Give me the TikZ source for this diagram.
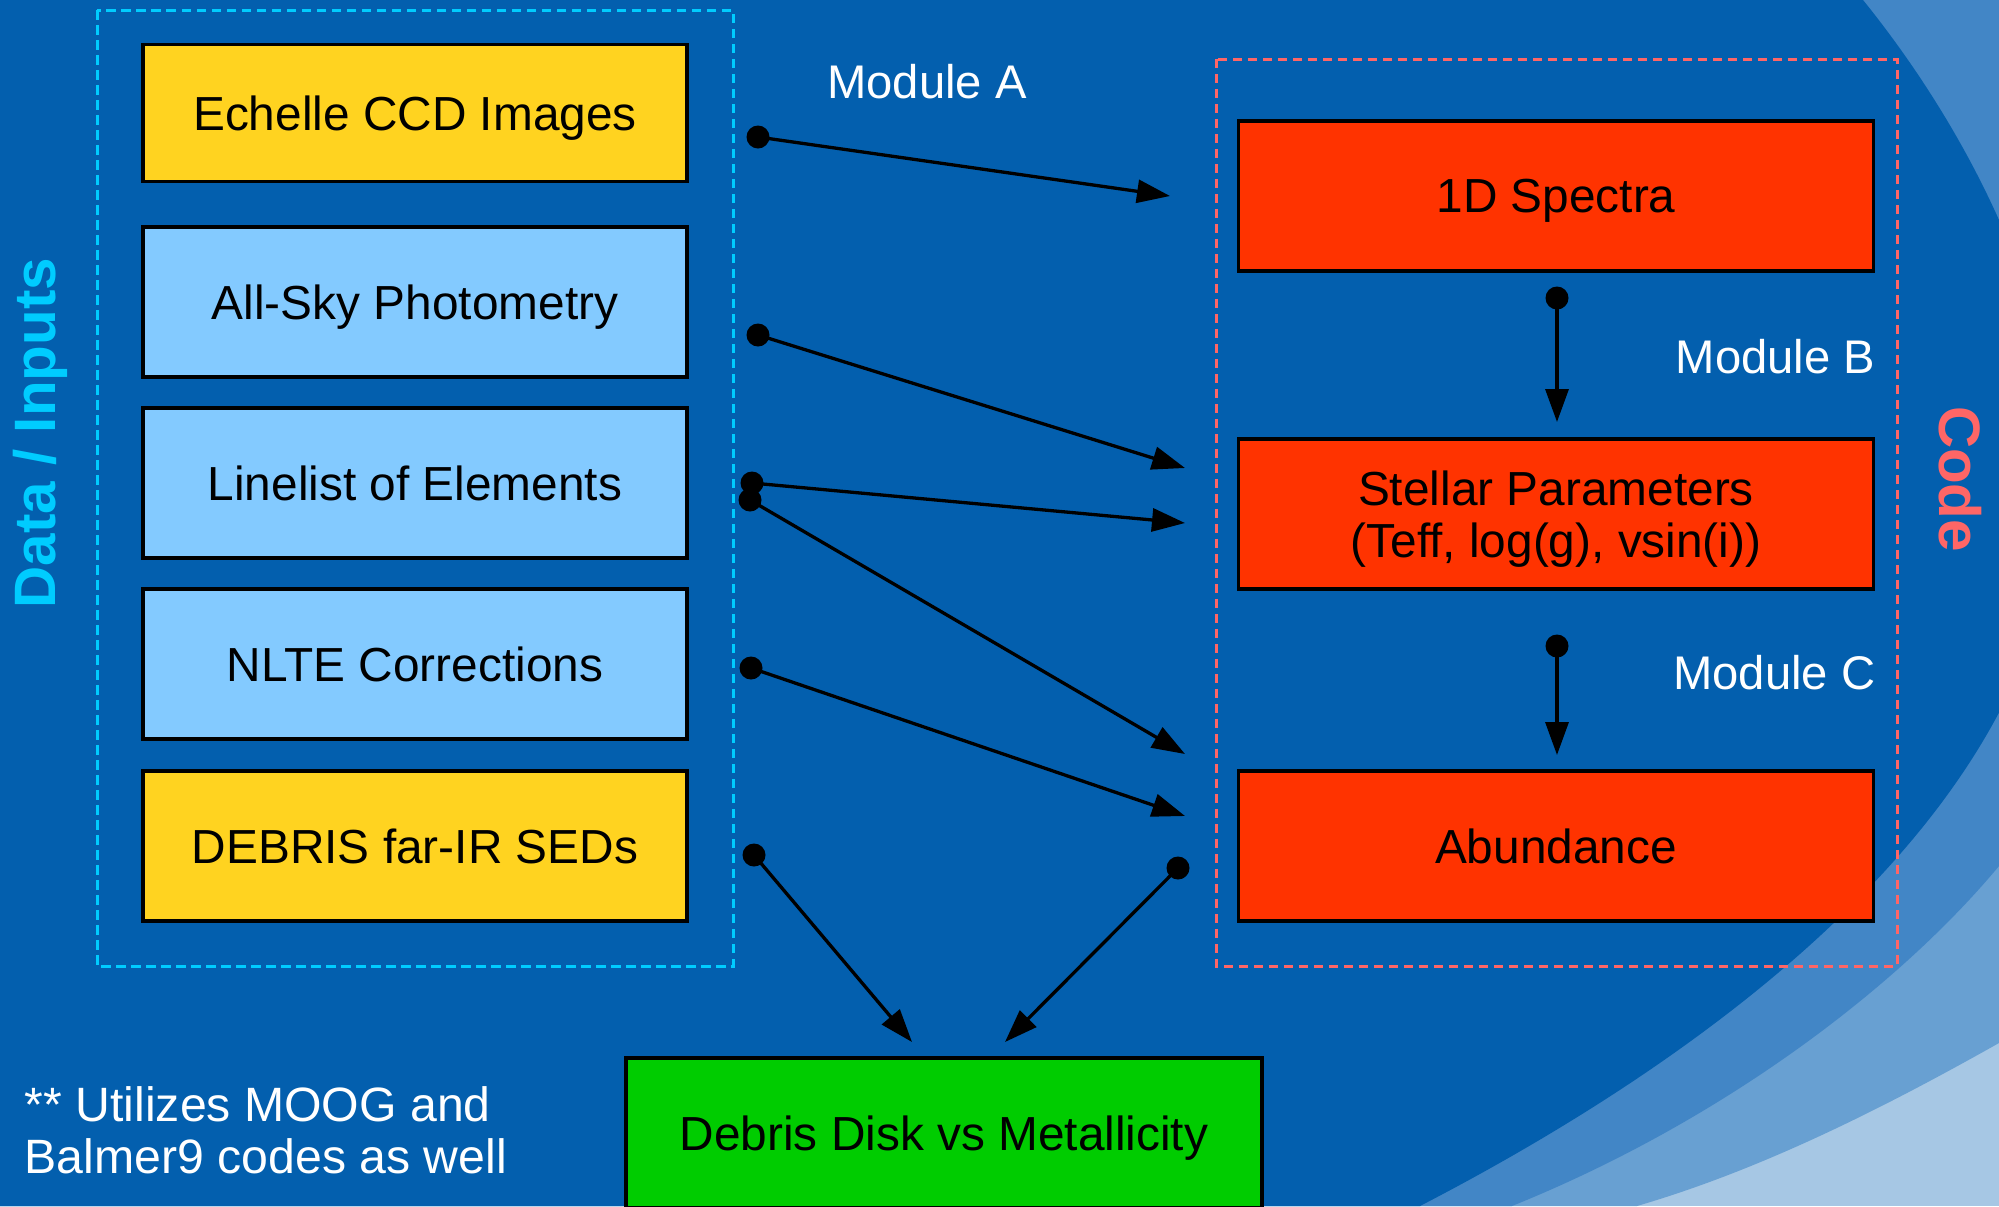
\documentclass[tikz,border=0pt]{standalone}
\usepackage{fontspec}
\setmainfont{Liberation Sans}
\usetikzlibrary{arrows.meta}

\definecolor{bgdeep}{RGB}{3,95,174}
\definecolor{bglight}{RGB}{66,134,198}
\definecolor{bgmid}{RGB}{104,160,210}
\definecolor{bgpale}{RGB}{166,199,228}
\definecolor{boxyellow}{RGB}{255,211,32}
\definecolor{boxsky}{RGB}{131,202,255}
\definecolor{boxred}{RGB}{255,51,0}
\definecolor{boxgreen}{RGB}{0,204,0}
\definecolor{incyan}{RGB}{0,204,255}
\definecolor{codered}{RGB}{255,102,102}

\tikzset{every picture/.style={line width=0.75pt}}
\tikzset{
  inbox/.style={draw=black, line width=1.75pt, minimum width=272pt, minimum height=75pt,
    inner sep=0pt, text depth=0pt, align=center, font=\fontsize{23.9}{26}\selectfont},
  codebox/.style={inbox, fill=boxred, minimum width=317.5pt},
  inframe/.style={draw=incyan, line width=1.5pt, dash pattern=on 4.75pt off 2.75pt},
  codeframe/.style={draw=codered, line width=1.5pt, dash pattern=on 4.5pt off 3pt},
  link/.style={line width=1.65pt, -{Triangle[length=16.5pt,width=11.5pt]}},
  modlabel/.style={text=white, inner sep=0pt, font=\fontsize{23.6}{26}\selectfont},
  sidelabel/.style={inner sep=0pt, font=\bfseries\fontsize{29.2}{31}\selectfont}
}

\begin{document}
\begin{tikzpicture}[x=0.5pt,y=0.5pt,yscale=-1]
\useasboundingbox (0,0) rectangle (1999,1206);

%Background with the curved bands
\fill[bgpale] (0,0) rectangle (1999,1206);
\begin{scope}
\clip (0,0) rectangle (1999,1206);
\fill[bgmid] (0,0) -- (1999,0) -- (1999,1043) .. controls (1880,1110) and (1760,1170) .. (1637,1206) -- (0,1206) -- cycle;
\fill[bglight] (0,0) -- (1999,0) -- (1999,866) .. controls (1900,985) and (1725,1120) .. (1512,1206) -- (0,1206) -- cycle;
\fill[bgdeep] (0,0) -- (1863,0) .. controls (1960,120) and (2060,300) .. (2060,480) .. controls (2060,780) and (1760,1030) .. (1420,1206) -- (0,1206) -- cycle;
\end{scope}

%Dashed frames
\draw[inframe] (97,10) rectangle (733,966);
\draw[codeframe] (1216,59) rectangle (1897,966);

%Inputs
\node[inbox, fill=boxyellow, minimum height=68.5pt] (echelle) at (415,113) {Echelle CCD Images};
\node[inbox, fill=boxsky] (allsky) at (415,302) {All-Sky Photometry};
\node[inbox, fill=boxsky] (linelist) at (415,483) {Linelist of Elements};
\node[inbox, fill=boxsky] (nlte) at (415,664) {NLTE Corrections};
\node[inbox, fill=boxyellow] (debris) at (415,846) {DEBRIS far-IR SEDs};

%Code blocks
\node[codebox] (spectra) at (1556,196) {1D Spectra};
\node[codebox] (stellar) at (1556,514) {Stellar Parameters\\(Teff, log(g), vsin(i))};
\node[codebox] (abundance) at (1556,846) {Abundance};

%Result
\node[inbox, fill=boxgreen, minimum width=318pt] (disk) at (944,1133) {Debris Disk vs Metallicity};

%Text labels
\node[modlabel] (moda) at (927,82) {Module A};
\node[modlabel, anchor=east] (modb) at (1876,357) {Module B};
\node[modlabel, anchor=east] (modc) at (1876,673) {Module C};
\node[sidelabel, text=incyan, rotate=90] (datalabel) at (40,433) {Data / Inputs};
\node[sidelabel, text=codered, rotate=-90] (codelabel) at (1960,479) {Code};
\node[modlabel, align=left, anchor=west, font=\fontsize{24.1}{26}\selectfont] (note) at (24,1130) {** Utilizes MOOG and\\Balmer9 codes as well};

%Arrow ends
\coordinate (a1) at (758,137);  \coordinate (b1) at (1170,196);
\coordinate (a2) at (758,335);  \coordinate (b2) at (1185,468);
\coordinate (a3) at (752,483);  \coordinate (b3) at (1185,523);
\coordinate (a4) at (750,500);  \coordinate (b4) at (1185,754);
\coordinate (a5) at (751,668);  \coordinate (b5) at (1185,816);
\coordinate (a6) at (754,855);  \coordinate (b6) at (912,1042);
\coordinate (a7) at (1178,868); \coordinate (b7) at (1005,1042);
\coordinate (a8) at (1557,298); \coordinate (b8) at (1557,422);
\coordinate (a9) at (1557,646); \coordinate (b9) at (1557,755);

%Arrows
\foreach \i in {1,...,9} {
  \draw[link] (a\i) -- (b\i);
  \fill (a\i) circle[radius=5.75pt];
}

\end{tikzpicture}
\end{document}
